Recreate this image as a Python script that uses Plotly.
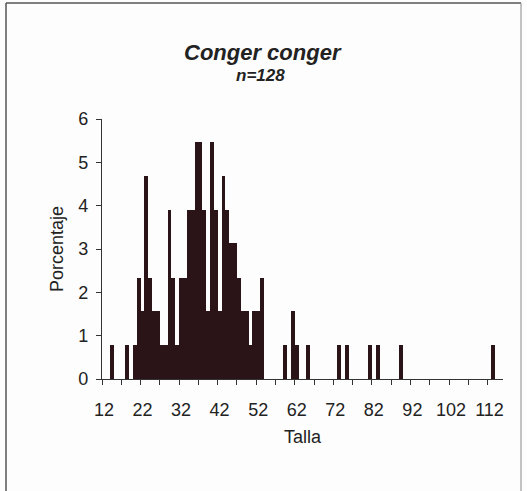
import plotly.graph_objects as go

# Talla (cm) and percentage of fish in each length class (n=128)
tallas = [14, 18, 20, 21, 22, 23, 24, 25, 26, 27, 28, 29, 30, 31, 32, 33, 34, 35,
          36, 37, 38, 39, 40, 41, 42, 43, 44, 45, 46, 47, 48, 49, 50, 51, 52, 53,
          59, 61, 62, 65, 73, 75, 81, 83, 89, 113]
porcentaje = [0.78, 0.78, 0.78, 2.34, 1.56, 4.69, 2.34, 1.56, 1.56, 0.78, 0.78, 3.91,
              2.34, 0.78, 2.34, 2.34, 3.91, 3.91, 5.47, 5.47, 3.91, 1.56, 5.47, 3.91,
              1.56, 4.69, 3.91, 3.13, 3.13, 2.34, 1.56, 1.56, 0.78, 1.56, 1.56, 2.34,
              0.78, 1.56, 0.78, 0.78, 0.78, 0.78, 0.78, 0.78, 0.78, 0.78]
x_labels = [12, 22, 32, 42, 52, 62, 72, 82, 92, 102, 112]
x_minor_ticks = [11.5 + 5 * i for i in range(21)]
y_ticks = [0, 1, 2, 3, 4, 5, 6]

FONT = "Liberation Sans, Arial, sans-serif"
TXT = "#222222"

fig = go.Figure(go.Bar(
    x=tallas, y=porcentaje, width=1,
    marker=dict(color="#2a1417", line=dict(width=0)),
))

W, H = 527, 491
L, R, T, B = 102, 24, 119, 112
pw, ph = W - L - R, H - T - B

def px_x(p):
    return (p - L) / pw

def px_y(p):
    return (H - B - p) / ph

fig.update_layout(
    width=W, height=H,
    margin=dict(l=L, r=R, t=T, b=B),
    paper_bgcolor="#fdfdfd", plot_bgcolor="#fdfdfd",
    bargap=0, showlegend=False,
    font=dict(family=FONT, size=18, color=TXT),
    xaxis=dict(
        range=[11.5, 115.5], tickmode="array", tickvals=x_labels,
        ticktext=[str(v) for v in x_labels], ticks="",
        ticklabelstandoff=14,
        showline=True, linecolor="#333333", linewidth=1.2,
        showgrid=False, zeroline=False,
        tickfont=dict(size=18, color=TXT),
        minor=dict(tickmode="array", tickvals=x_minor_ticks, ticks="outside",
                   ticklen=5, tickcolor="#333333", tickwidth=1, showgrid=False),
        title=dict(text="Talla", font=dict(size=18, color=TXT), standoff=11),
    ),
    yaxis=dict(
        range=[0, 6], tickmode="array", tickvals=y_ticks,
        ticks="outside", ticklen=5, tickcolor="#333333",
        ticklabelstandoff=4,
        showline=True, linecolor="#333333", linewidth=1.2,
        showgrid=False, zeroline=False,
        tickfont=dict(size=18, color=TXT),
        title=dict(text="Porcentaje", font=dict(size=18, color=TXT), standoff=9),
    ),
    annotations=[
        dict(text="<b><i>Conger conger</i></b>", xref="paper", yref="paper",
             x=px_x(263), y=px_y(52), showarrow=False,
             font=dict(size=22, color=TXT, family=FONT), xanchor="center", yanchor="middle"),
        dict(text="<b><i>n=128</i></b>", xref="paper", yref="paper",
             x=px_x(260), y=px_y(76), showarrow=False,
             font=dict(size=17, color=TXT, family=FONT), xanchor="center", yanchor="middle"),
    ],
    shapes=[
        dict(type="line", xref="paper", yref="paper", x0=px_x(6), x1=px_x(6),
             y0=px_y(3), y1=px_y(491), line=dict(color="#555555", width=1.5)),
        dict(type="line", xref="paper", yref="paper", x0=px_x(6), x1=px_x(521),
             y0=px_y(3), y1=px_y(3), line=dict(color="#555555", width=1.5)),
        dict(type="line", xref="paper", yref="paper", x0=px_x(521), x1=px_x(521),
             y0=px_y(3), y1=px_y(491), line=dict(color="#888888", width=1)),
    ],
)

fig.write_html("out.html", config={"displayModeBar": False},
               post_script="document.body.style.margin='0';document.body.style.padding='0';")
